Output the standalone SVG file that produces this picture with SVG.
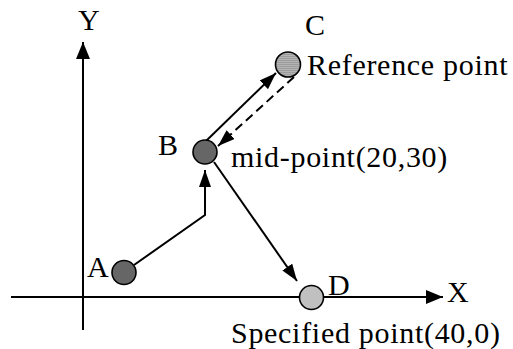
<svg xmlns="http://www.w3.org/2000/svg" width="513" height="349" viewBox="0 0 513 349">
<style>
  text { font-family: "Liberation Serif", "Times New Roman", serif; font-size: 30px; fill: #000; }
  .lbl { letter-spacing: 0.7px; }
  .ax { stroke: #000; stroke-width: 2; fill: none; }
  .cn { stroke: #000; stroke-width: 2; fill: none; }
  .dash { stroke-dasharray: 9 5; }
  .pt { stroke: #000; stroke-width: 1.6; }
</style>
<defs>
  <marker id="ah" markerUnits="userSpaceOnUse" markerWidth="18" markerHeight="14" refX="17" refY="7" orient="auto">
    <path d="M0,0 L17,7 L0,14 Z" fill="#000"/>
  </marker>
  <marker id="ahs" markerUnits="userSpaceOnUse" markerWidth="18" markerHeight="12" refX="17" refY="6" orient="auto">
    <path d="M0,0 L17,6 L0,12 Z" fill="#000"/>
  </marker>
  <pattern id="stripes" patternUnits="userSpaceOnUse" width="4" height="2">
    <rect width="4" height="2" fill="#b4b4b4"/>
    <rect width="4" height="1" fill="#9c9c9c"/>
  </pattern>
</defs>
<g id="axes">
  <line class="ax" x1="83" y1="330" x2="83" y2="42" marker-end="url(#ah)"/>
  <line class="ax" x1="11" y1="297" x2="443" y2="297" marker-end="url(#ah)"/>
  <text x="78" y="30">Y</text>
  <text x="447" y="302">X</text>
</g>
<g id="connectors">
  <polyline class="cn" points="134,265 205,215 205,170" marker-end="url(#ahs)"/>
  <line class="cn" x1="214" y1="162" x2="297" y2="281" marker-end="url(#ahs)"/>
  <line class="cn" x1="206" y1="141" x2="276" y2="73" marker-end="url(#ahs)"/>
  <line class="cn dash" x1="294" y1="77" x2="218" y2="146" marker-end="url(#ahs)"/>
</g>
<g id="nodeA">
  <circle class="pt" cx="124" cy="272.5" r="12" fill="#666"/>
  <text x="87" y="277">A</text>
</g>
<g id="nodeB">
  <circle class="pt" cx="205" cy="152" r="12" fill="#666"/>
  <text x="158" y="155">B</text>
  <text class="lbl" x="231" y="167">mid-point(20,30)</text>
</g>
<g id="nodeC">
  <circle class="pt" cx="288" cy="64.5" r="12.5" fill="url(#stripes)"/>
  <text x="305" y="35">C</text>
  <text class="lbl" x="307" y="75">Reference point</text>
</g>
<g id="nodeD">
  <circle class="pt" cx="311.5" cy="297.5" r="12" fill="#c0c0c0"/>
  <text x="328" y="295">D</text>
  <text class="lbl" x="231" y="343">Specified point(40,0)</text>
</g>
</svg>
